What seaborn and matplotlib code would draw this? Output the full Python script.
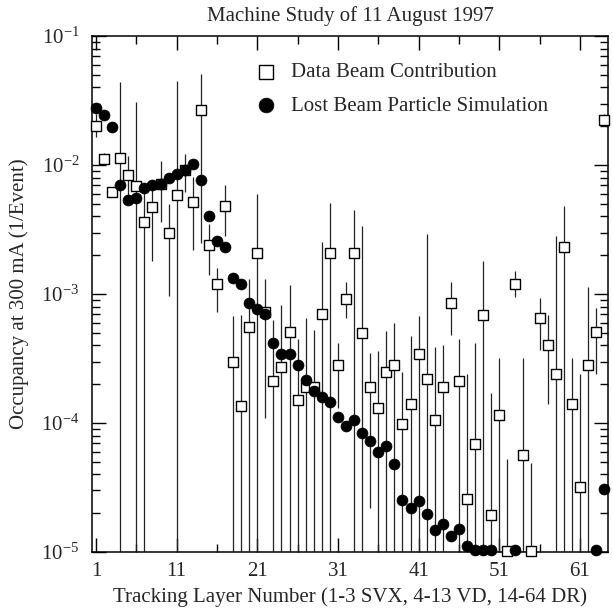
import numpy as np
import pandas as pd
import matplotlib
matplotlib.use("Agg")
import matplotlib.pyplot as plt
import seaborn as sns
from matplotlib.ticker import FixedLocator, LogLocator, NullFormatter

# measured occupancy per tracking layer (1/event at 300 mA)
layers = list(range(1, 65))
data_occ = [0.020, 0.0112, 0.0062, 0.0114, 0.0084, 0.0069, 0.0036, 0.0047, 0.0071, 0.0030,
            0.0059, 0.0091, 0.0052, 0.0268, 0.0024, 0.0012, 0.0048, 0.00030, 0.000135, 0.00056,
            0.0021, 0.00072, 0.00021, 0.00027, 0.00051, 0.00015, 0.00019, 0.00019, 0.00070, 0.0021,
            0.00028, 0.00092, 0.0021, 0.00050, 0.00019, 0.00013, 0.00025, 0.00028, 0.000098, 0.00014,
            0.00034, 0.00022, 0.000105, 0.00019, 0.00085, 0.00021, 0.000026, 0.000069, 0.00069, 0.0000195,
            0.000115, 0.0000102, 0.0012, 0.000057, 0.0000102, 0.00065, 0.00040, 0.00024, 0.0023, 0.00014,
            0.000032, 0.00028, 0.00051, 0.0225]
# error bar ends (0 = bar runs off the bottom of the plot)
data_hi = [0.025, 0.0125, 0.0068, 0.044, 0.0118, 0.031, 0.0070, 0.0068, 0.0107, 0.0050,
           0.045, 0.0121, 0.0081, 0.051, 0.0035, 0.0016, 0.0070, 0.00068, 0.00069, 0.0013,
           0.0060, 0.00132, 0.00063, 0.00082, 0.00117, 0.00045, 0.00065, 0.00053, 0.00255, 0.0051,
           0.00042, 0.00123, 0.0045, 0.0034, 0.00035, 0.00036, 0.00052, 0.00060, 0.00025, 0.00047,
           0.00068, 0.0029, 0.00039, 0.00040, 0.00123, 0.00045, 0.00024, 0.00042, 0.0018, 0.00017,
           0.00032, 0.000053, 0.0015, 0.00032, 0.000049, 0.00094, 0.00069, 0.0028, 0.0048, 0.00032,
           0.00024, 0.00113, 0.00078, 0.025]
data_lo = [0.0165, 0.0103, 0.0058, 0, 0.0050, 0, 0, 0.0018, 0.0036, 0.00097,
           0, 0.0062, 0.0022, 0.0025, 0.0014, 0.00073, 0.0028, 0, 0, 0,
           0, 0.00011, 0, 0, 0, 0, 0, 0, 0, 0,
           0.00013, 0.00065, 0, 0, 0.000022, 0, 0, 0, 0, 0,
           0, 0, 0, 0, 0.00048, 0, 0, 0, 0, 0,
           0, 0, 0.00095, 0, 0, 0.00037, 0.00014, 0, 0, 0,
           0, 0, 0.00024, 0.020]

# lost beam particle simulation
sim_layers = list(range(1, 51)) + [53, 63, 64]
sim_occ = [0.0275, 0.0245, 0.0197, 0.0070, 0.0054, 0.0056, 0.0066, 0.0070, 0.0071, 0.0079,
           0.0085, 0.0092, 0.0102, 0.0076, 0.0040, 0.0026, 0.0023, 0.00134, 0.0012, 0.00085,
           0.00076, 0.00070, 0.00042, 0.00034, 0.00034, 0.00028, 0.000215, 0.000177, 0.00016, 0.000145,
           0.000112, 0.000095, 0.000105, 0.000083, 0.000072, 0.00006, 0.000066, 0.000048, 0.0000255, 0.000022,
           0.0000248, 0.0000198, 0.0000148, 0.0000164, 0.0000134, 0.000015, 0.0000112, 0.0000103, 0.0000103, 0.0000103,
           0.0000103, 0.0000103, 0.000031]

data = pd.DataFrame({"layer": layers, "occ": data_occ, "hi": data_hi, "lo": data_lo})
sim = pd.DataFrame({"layer": sim_layers, "occ": sim_occ})

sns.set_style("ticks")
plt.rcParams["font.family"] = ["Liberation Serif", "DejaVu Serif"]
plt.rcParams["mathtext.fontset"] = "custom"
plt.rcParams["mathtext.rm"] = "Liberation Serif"
plt.rcParams["font.size"] = 15

fig = plt.figure(figsize=(6.13, 6.12), dpi=100)
ax = fig.add_axes([0.150, 0.098, 0.842, 0.843])

yerr = [data["occ"] - data["lo"], data["hi"] - data["occ"]]
ax.errorbar(data["layer"], data["occ"], yerr=yerr, fmt="none",
            ecolor="#222222", elinewidth=0.9, capsize=0, zorder=1)
sns.scatterplot(data=data, x="layer", y="occ", marker="s", s=58,
                facecolor="white", edgecolor="black", linewidth=1.0,
                label="Data Beam Contribution", ax=ax, zorder=3, clip_on=False)
sns.scatterplot(data=sim, x="layer", y="occ", marker="o", s=62,
                color="black", edgecolor="black", linewidth=0.5,
                label="Lost Beam Particle Simulation", ax=ax, zorder=4, clip_on=False)

ax.set_yscale("log")
ax.set_ylim(1e-5, 1e-1)
ax.set_xlim(0.5, 64.5)
ax.xaxis.set_major_locator(FixedLocator([1, 11, 21, 31, 41, 51, 61]))
ax.xaxis.set_minor_locator(FixedLocator([6, 16, 26, 36, 46, 56]))
ax.yaxis.set_major_locator(LogLocator(base=10))
ax.yaxis.set_minor_locator(LogLocator(base=10, subs=np.arange(2, 10)))
ax.yaxis.set_minor_formatter(NullFormatter())
ax.tick_params(which="both", direction="in", top=True, right=True, labelsize=15, color="black")
ax.tick_params(which="major", length=10, width=1.0, pad=7)
ax.tick_params(axis="y", which="major", pad=9)
ax.tick_params(which="minor", length=5.5, width=1.0)
for sp in ax.spines.values():
    sp.set_linewidth(1.1)
    sp.set_color("black")

ax.set_title("Machine Study of 11 August 1997", fontsize=15, pad=11)
ax.set_xlabel("Tracking Layer Number (1-3 SVX, 4-13 VD, 14-64 DR)", fontsize=15, labelpad=5)
ax.set_ylabel("Occupancy at 300 mA (1/Event)", fontsize=15, labelpad=9)

ax.legend(loc="upper left", bbox_to_anchor=(0.28, 0.985), frameon=False,
          markerscale=1.35, fontsize=15, handletextpad=0.7, labelspacing=0.68,
          handlelength=1.0)

plt.savefig("out.png", dpi=100)
